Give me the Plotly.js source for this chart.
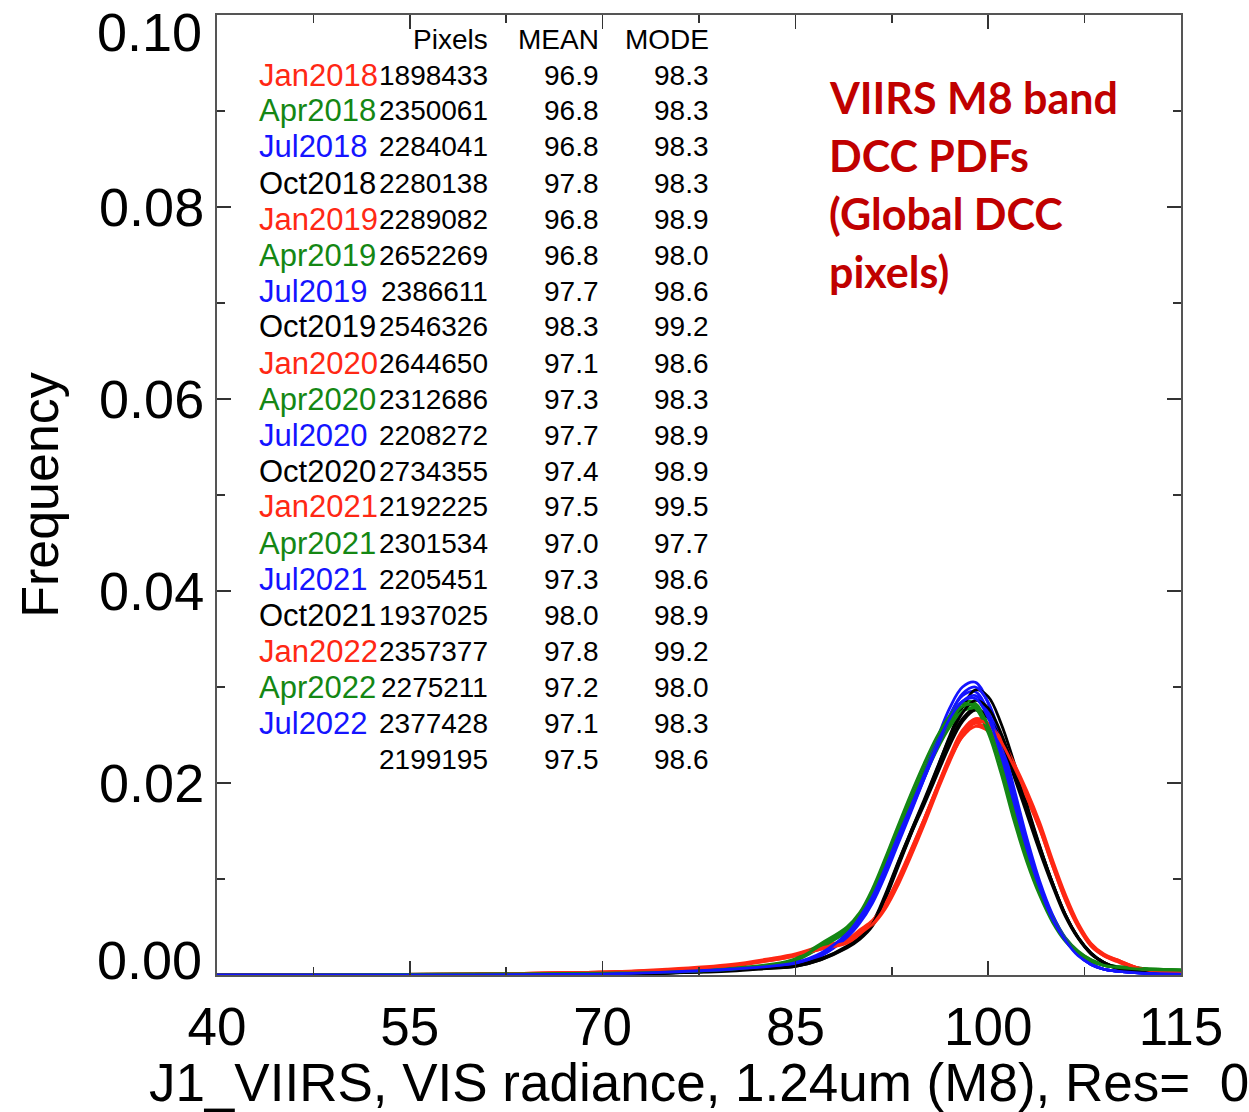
<!DOCTYPE html>
<html>
<head>
<meta charset="utf-8">
<script src="https://cdn.plot.ly/plotly-3.0.1.min.js"></script>
<style>body{margin:0;background:#fff;} #chart{width:1249px;height:1112px;}</style>
</head>
<body>
<div id="chart"></div>
<script>
// ---- data ----
const radiance = [40,60,70,75,80,83,85,87,89,90,91,92,93,94,95,96,97,98,99,100,101,102,103,104,105,106,107,108,109,110,112,115];

const months = ["Jan2018","Apr2018","Jul2018","Oct2018","Jan2019","Apr2019","Jul2019","Oct2019","Jan2020","Apr2020","Jul2020","Oct2020","Jan2021","Apr2021","Jul2021","Oct2021","Jan2022","Apr2022","Jul2022",""];
const pixels = ["1898433","2350061","2284041","2280138","2289082","2652269","2386611","2546326","2644650","2312686","2208272","2734355","2192225","2301534","2205451","1937025","2357377","2275211","2377428","2199195"];
const means = ["96.9","96.8","96.8","97.8","96.8","96.8","97.7","98.3","97.1","97.3","97.7","97.4","97.5","97.0","97.3","98.0","97.8","97.2","97.1","97.5"];
const modes = ["98.3","98.3","98.3","98.3","98.9","98.0","98.6","99.2","98.6","98.3","98.9","98.9","99.5","97.7","98.6","98.9","99.2","98.0","98.3","98.6"];

const jan2018 = [0,0.0001,0.0003,0.0005,0.0010,0.0016,0.0021,0.0028,0.0035,0.0045,0.0055,0.0073,0.0099,0.0130,0.0162,0.0195,0.0226,0.0251,0.0262,0.0256,0.0238,0.0212,0.0184,0.0152,0.0114,0.0079,0.0051,0.0031,0.0020,0.0015,0.0006,0.0002];
const apr2018 = [0,0.0001,0.0002,0.0003,0.0006,0.0010,0.0015,0.0030,0.0046,0.0060,0.0083,0.0113,0.0146,0.0178,0.0209,0.0238,0.0262,0.0279,0.0280,0.0259,0.0221,0.0172,0.0127,0.0090,0.0060,0.0038,0.0024,0.0016,0.0011,0.0009,0.0007,0.0005];
const jul2018 = [0,0,0.0001,0.0003,0.0006,0.0009,0.0012,0.0022,0.0042,0.0058,0.0080,0.0110,0.0143,0.0174,0.0207,0.0240,0.0270,0.0291,0.0295,0.0274,0.0234,0.0184,0.0135,0.0093,0.0060,0.0037,0.0021,0.0011,0.0006,0.0004,0.0002,0.0001];
const oct2018 = [0,0,0.0001,0.0002,0.0005,0.0008,0.0010,0.0017,0.0030,0.0040,0.0055,0.0084,0.0118,0.0150,0.0180,0.0211,0.0242,0.0267,0.0278,0.0268,0.0243,0.0207,0.0168,0.0129,0.0093,0.0061,0.0038,0.0022,0.0013,0.0007,0.0003,0.0001];
const jan2019 = [0,0.0001,0.0003,0.0005,0.0009,0.0015,0.0020,0.0027,0.0034,0.0044,0.0054,0.0071,0.0097,0.0128,0.0161,0.0195,0.0228,0.0255,0.0267,0.0262,0.0242,0.0215,0.0186,0.0153,0.0114,0.0078,0.0050,0.0030,0.0020,0.0014,0.0005,0.0002];
const apr2019 = [0,0.0001,0.0002,0.0003,0.0006,0.0010,0.0016,0.0031,0.0048,0.0062,0.0086,0.0117,0.0150,0.0183,0.0214,0.0243,0.0267,0.0284,0.0283,0.0260,0.0219,0.0168,0.0123,0.0087,0.0058,0.0037,0.0023,0.0015,0.0010,0.0008,0.0006,0.0005];
const jul2019 = [0,0,0.0001,0.0003,0.0005,0.0008,0.0011,0.0020,0.0040,0.0056,0.0078,0.0108,0.0142,0.0175,0.0210,0.0245,0.0278,0.0300,0.0305,0.0283,0.0241,0.0189,0.0138,0.0095,0.0061,0.0037,0.0021,0.0011,0.0006,0.0004,0.0002,0.0001];
const oct2019 = [0,0,0.0001,0.0002,0.0005,0.0007,0.0009,0.0016,0.0028,0.0037,0.0051,0.0079,0.0113,0.0147,0.0180,0.0214,0.0249,0.0279,0.0297,0.0290,0.0262,0.0222,0.0178,0.0135,0.0096,0.0063,0.0039,0.0023,0.0013,0.0008,0.0003,0.0001];
const jan2020 = [0,0.0001,0.0003,0.0006,0.0011,0.0017,0.0022,0.0030,0.0037,0.0047,0.0057,0.0075,0.0101,0.0131,0.0162,0.0194,0.0224,0.0248,0.0259,0.0254,0.0237,0.0212,0.0185,0.0154,0.0116,0.0081,0.0052,0.0032,0.0021,0.0016,0.0006,0.0002];
const apr2020 = [0,0.0001,0.0002,0.0003,0.0006,0.0010,0.0015,0.0029,0.0045,0.0058,0.0081,0.0110,0.0142,0.0174,0.0205,0.0234,0.0258,0.0275,0.0277,0.0258,0.0222,0.0175,0.0130,0.0092,0.0062,0.0039,0.0025,0.0016,0.0011,0.0009,0.0007,0.0005];
const jul2020 = [0,0,0.0001,0.0003,0.0005,0.0008,0.0011,0.0020,0.0039,0.0054,0.0075,0.0104,0.0137,0.0170,0.0204,0.0238,0.0270,0.0293,0.0300,0.0284,0.0246,0.0195,0.0143,0.0098,0.0063,0.0038,0.0022,0.0012,0.0006,0.0004,0.0002,0.0001];
const oct2020 = [0,0,0.0001,0.0002,0.0005,0.0008,0.0010,0.0017,0.0029,0.0039,0.0053,0.0081,0.0115,0.0147,0.0177,0.0208,0.0239,0.0264,0.0276,0.0268,0.0245,0.0210,0.0172,0.0133,0.0096,0.0063,0.0039,0.0023,0.0013,0.0008,0.0003,0.0001];
const jan2021 = [0,0.0001,0.0003,0.0005,0.0010,0.0015,0.0020,0.0027,0.0033,0.0042,0.0052,0.0069,0.0094,0.0124,0.0156,0.0190,0.0222,0.0249,0.0263,0.0262,0.0246,0.0221,0.0192,0.0159,0.0120,0.0084,0.0054,0.0033,0.0022,0.0016,0.0006,0.0002];
const apr2021 = [0,0.0001,0.0002,0.0004,0.0007,0.0011,0.0017,0.0033,0.0050,0.0065,0.0090,0.0122,0.0156,0.0189,0.0220,0.0248,0.0270,0.0283,0.0278,0.0252,0.0210,0.0161,0.0118,0.0083,0.0055,0.0035,0.0022,0.0014,0.0010,0.0008,0.0006,0.0005];
const jul2021 = [0,0,0.0001,0.0003,0.0006,0.0009,0.0012,0.0022,0.0042,0.0057,0.0079,0.0108,0.0140,0.0172,0.0204,0.0236,0.0265,0.0285,0.0291,0.0273,0.0235,0.0186,0.0137,0.0094,0.0061,0.0037,0.0021,0.0011,0.0006,0.0004,0.0002,0.0001];
const oct2021 = [0,0,0.0001,0.0002,0.0004,0.0007,0.0009,0.0016,0.0029,0.0038,0.0053,0.0082,0.0117,0.0150,0.0182,0.0215,0.0247,0.0273,0.0286,0.0278,0.0252,0.0215,0.0175,0.0134,0.0096,0.0063,0.0039,0.0022,0.0013,0.0007,0.0003,0.0001];
const jan2022 = [0,0.0001,0.0003,0.0005,0.0010,0.0016,0.0021,0.0028,0.0034,0.0043,0.0053,0.0071,0.0096,0.0126,0.0159,0.0193,0.0225,0.0251,0.0265,0.0261,0.0243,0.0217,0.0188,0.0155,0.0117,0.0081,0.0052,0.0032,0.0021,0.0015,0.0006,0.0002];
const apr2022 = [0,0.0001,0.0002,0.0003,0.0006,0.0010,0.0016,0.0031,0.0047,0.0061,0.0085,0.0115,0.0148,0.0180,0.0211,0.0240,0.0264,0.0280,0.0281,0.0259,0.0220,0.0170,0.0125,0.0088,0.0059,0.0037,0.0023,0.0015,0.0010,0.0008,0.0006,0.0005];
const jul2022 = [0,0,0.0001,0.0003,0.0006,0.0009,0.0013,0.0023,0.0043,0.0060,0.0082,0.0112,0.0145,0.0176,0.0208,0.0239,0.0267,0.0285,0.0288,0.0268,0.0229,0.0180,0.0132,0.0091,0.0058,0.0036,0.0020,0.0011,0.0006,0.0004,0.0002,0.0001];

const series = [jan2018,apr2018,jul2018,oct2018,jan2019,apr2019,jul2019,oct2019,jan2020,apr2020,jul2020,oct2020,jan2021,apr2021,jul2021,oct2021,jan2022,apr2022,jul2022];

const yTicks = [0, 0.02, 0.04, 0.06, 0.08, 0.10];
const xTicks = [40, 55, 70, 85, 100, 115];

const titleLines = ["VIIRS M8 band","DCC PDFs","(Global DCC","pixels)"];

// ---- style ----
const palette = ["rgb(255,40,20)","rgb(20,135,20)","rgb(20,20,255)","rgb(0,0,0)"];
const L = 217, R = 1181, T = 15, B = 975;
const px = x => (x - L) / (R - L);
const py = y => (B - y) / (B - T);
const tickFontY = {family: 'Liberation Sans, Arial, sans-serif', size: 54, color: '#000'};

const traces = series.map((s, i) => ({
  type: 'scatter', mode: 'lines', x: radiance, y: s, name: months[i],
  line: {color: palette[i % 4], width: 2.8, shape: 'spline', smoothing: 1},
  showlegend: false, hoverinfo: 'skip'
}));

const annotations = [];
const numFont = {family: 'Liberation Sans, Arial, sans-serif', size: 28, color: '#000'};
const hdr = [["Pixels", 490], ["MEAN", 601], ["MODE", 711]];
hdr.forEach(h => annotations.push({xref:'paper', yref:'paper', x: px(h[1]), y: py(40), xanchor:'right', yanchor:'middle', text: h[0], showarrow:false, font: numFont}));
months.forEach((m, i) => {
  const yy = py(75 + 36 * i);
  if (m) annotations.push({xref:'paper', yref:'paper', x: px(257), y: yy, xanchor:'left', yanchor:'middle', text: m, showarrow:false,
    font: {family: 'Liberation Sans, Arial, sans-serif', size: 31, color: palette[i % 4]}});
  annotations.push({xref:'paper', yref:'paper', x: px(490), y: yy, xanchor:'right', yanchor:'middle', text: pixels[i], showarrow:false, font: numFont});
  annotations.push({xref:'paper', yref:'paper', x: px(601), y: yy, xanchor:'right', yanchor:'middle', text: means[i], showarrow:false, font: numFont});
  annotations.push({xref:'paper', yref:'paper', x: px(711), y: yy, xanchor:'right', yanchor:'middle', text: modes[i], showarrow:false, font: numFont});
});
titleLines.forEach((t, i) => annotations.push({xref:'paper', yref:'paper', x: px(827), y: py(97 + 58 * i), xanchor:'left', yanchor:'middle',
  text: '<b>' + t + '</b>', showarrow:false, font: {family: 'Lato, Open Sans, sans-serif', size: 43, color: '#C00000'}}));
// end labels of the y axis, nudged inside the frame as in the original
annotations.push({xref:'paper', yref:'y', x: px(204), y: yTicks[5], yshift: -17, xanchor:'right', yanchor:'middle',
  text: yTicks[5].toFixed(2), showarrow:false, font: tickFontY});
annotations.push({xref:'paper', yref:'y', x: px(204), y: yTicks[0], yshift: 15, xanchor:'right', yanchor:'middle',
  text: yTicks[0].toFixed(2), showarrow:false, font: tickFontY});

const axisCommon = {
  showline: true, linecolor: '#555', linewidth: 2, mirror: 'allticks',
  ticks: 'inside', ticklen: 14, tickwidth: 1.5, tickcolor: '#333',
  showgrid: false, zeroline: false
};

const layout = {
  width: 1249, height: 1112,
  margin: {l: L, r: 1249 - R, t: T, b: 1112 - B},
  paper_bgcolor: '#fff', plot_bgcolor: '#fff',
  xaxis: Object.assign({}, axisCommon, {
    range: [40, 115], tickmode: 'array', tickvals: xTicks, ticktext: xTicks.map(String),
    minor: {dtick: 7.5, tick0: 40, ticks: 'inside', ticklen: 8, tickwidth: 1.5, tickcolor: '#333'},
    ticklabelstandoff: 4,
    tickfont: {family: 'Liberation Sans, Arial, sans-serif', size: 53, color: '#000'},
    title: {text: 'J1_VIIRS, VIS radiance, 1.24um (M8), Res=  0', standoff: 30,
      font: {family: 'Liberation Sans, Arial, sans-serif', size: 53, color: '#000'}}
  }),
  yaxis: Object.assign({}, axisCommon, {
    range: [0, 0.10], tickmode: 'array', tickvals: yTicks,
    ticktext: yTicks.map((v, i) => (i === 0 || i === yTicks.length - 1) ? '' : v.toFixed(2)),
    minor: {dtick: 0.01, tick0: 0, ticks: 'inside', ticklen: 8, tickwidth: 1.5, tickcolor: '#333'},
    ticklabelstandoff: 0,
    tickfont: tickFontY,
    title: {text: 'Frequency', standoff: 24,
      font: {family: 'Liberation Sans, Arial, sans-serif', size: 52, color: '#000'}}
  }),
  annotations: annotations
};

Plotly.newPlot('chart', traces, layout, {displayModeBar: false, staticPlot: true});
</script>
</body>
</html>
